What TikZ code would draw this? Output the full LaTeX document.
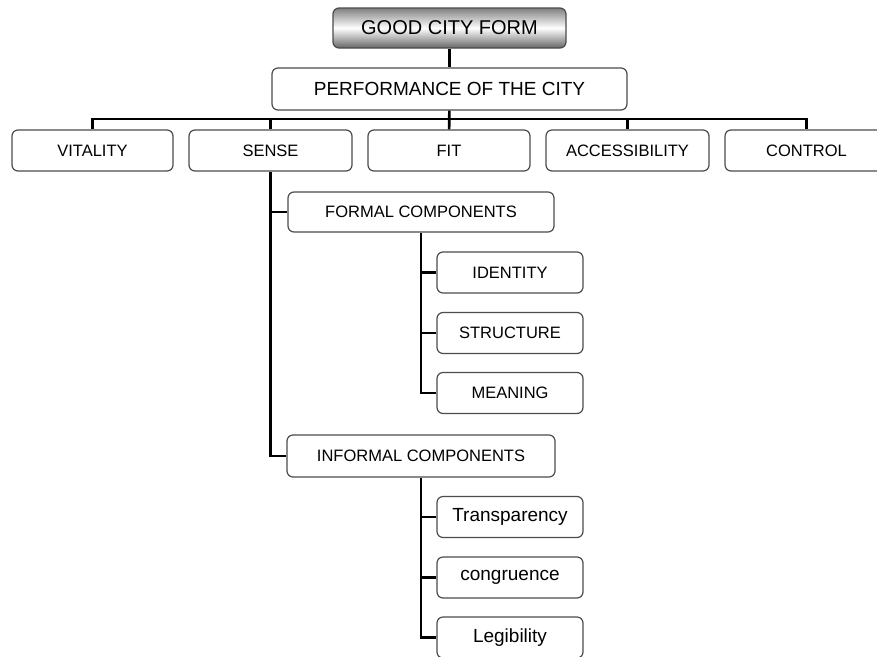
\documentclass[tikz,border=0pt]{standalone}
\usepackage{fontspec}
\setmainfont{Liberation Sans}
\tikzset{
  box/.style={draw=black!70, line width=1.2pt, rounded corners=6pt, fill=white,
    minimum height=41pt, inner sep=0pt, font=\fontsize{16.5}{18}\selectfont},
  small/.style={box, minimum width=146pt},
  lower/.style={small, font=\fontsize{19}{21}\selectfont},
  link/.style={line width=2.6pt}
}
\begin{document}
\begin{tikzpicture}[x=1pt, y=-1pt]
\clip (0,0) rectangle (877,656);
\fill[white] (0,0) rectangle (877,656);
\node[box, minimum width=233pt, minimum height=40pt, top color=black!50, bottom color=black!60,
  middle color=white, font=\fontsize{20}{22}\selectfont] (good) at (449.5,28) {GOOD CITY FORM};
\node[box, minimum width=355pt, minimum height=42pt, font=\fontsize{19}{21}\selectfont] (perf) at (449.5,89) {PERFORMANCE OF THE CITY};
\node[box, minimum width=161pt] (vit) at (92.5,150.5) {VITALITY};
\node[box, minimum width=163pt] (sense) at (270.5,150.5) {SENSE};
\node[box, minimum width=162pt] (fit) at (449,150.5) {FIT};
\node[box, minimum width=163pt] (acc) at (627.5,150.5) {ACCESSIBILITY};
\node[box, minimum width=163pt] (ctrl) at (806.5,150.5) {CONTROL};
\node[box, minimum width=266pt, minimum height=40pt] (formal) at (421,212) {FORMAL COMPONENTS};
\node[small] (ident) at (510,272.5) {IDENTITY};
\node[small] (struct) at (510,333) {STRUCTURE};
\node[small] (mean) at (510,393) {MEANING};
\node[box, minimum width=268pt, minimum height=42pt] (informal) at (421,456) {INFORMAL COMPONENTS};
\node[lower] (transp) at (510,517) {Transparency};
\node[lower] (congr) at (510,577.5) {congruence};
\node[lower] (legib) at (510,637.5) {Legibility};
\coordinate (bus) at (449.5,119);
\draw[link] (good) -- (perf);
\draw[link] (perf) -- (fit);
\draw[link] (vit.north) |- (bus) -| (ctrl.north);
\foreach \n in {sense,acc} \draw[link] (\n.north) -- (\n.north |- bus);
\draw[link] (sense.south) |- (informal.west);
\draw[link] (sense.south |- formal.west) -- (formal.west);
\draw[link] (formal.south) |- (mean.west);
\foreach \n in {ident,struct} \draw[link] (formal.south |- \n.west) -- (\n.west);
\draw[link] (informal.south) |- (legib.west);
\foreach \n in {transp,congr} \draw[link] (informal.south |- \n.west) -- (\n.west);
\end{tikzpicture}
\end{document}
